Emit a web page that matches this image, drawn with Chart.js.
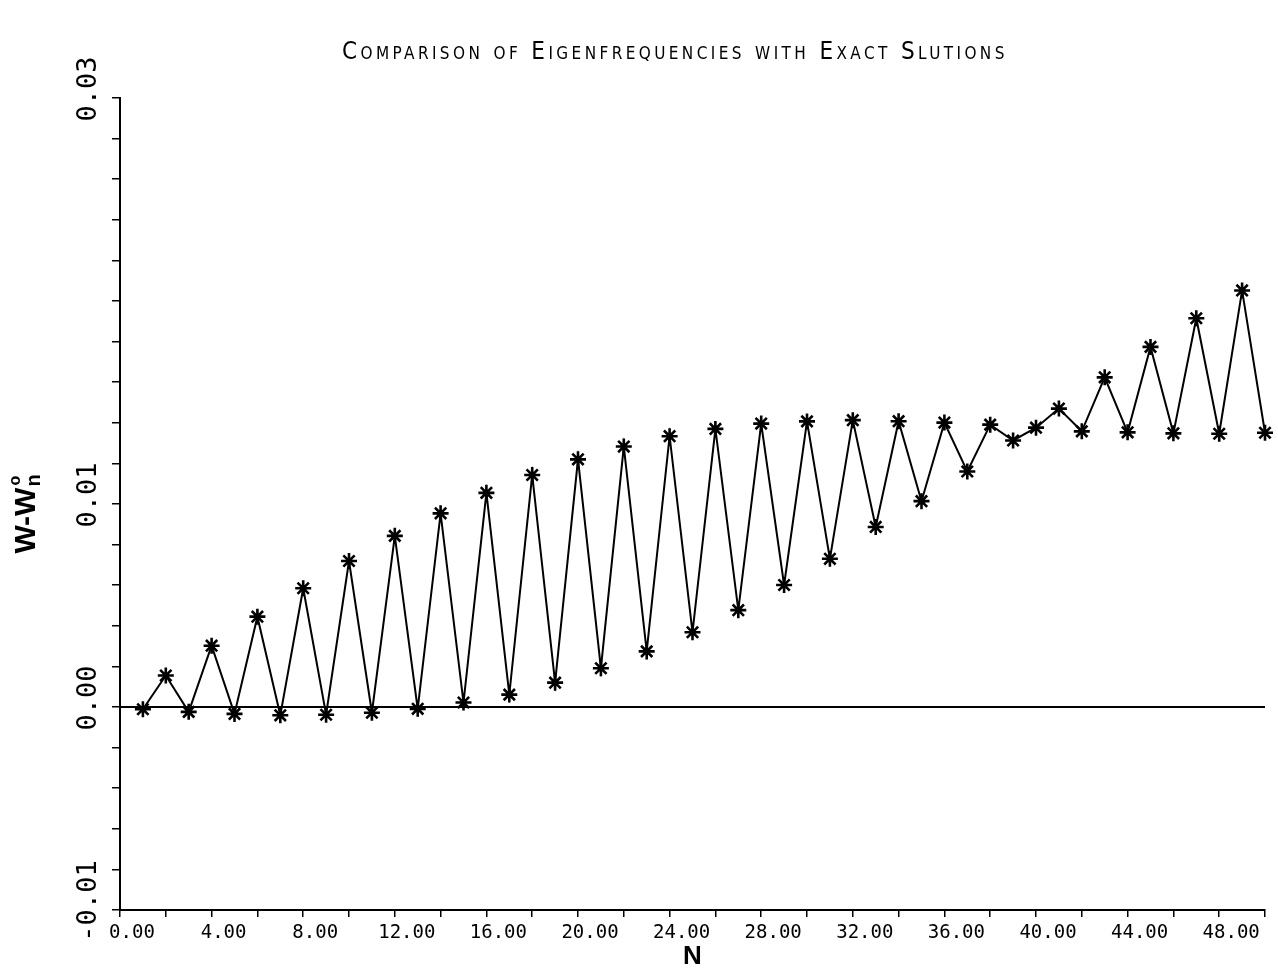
<!DOCTYPE html>
<html>
<head>
<meta charset="utf-8">
<script src="https://cdn.jsdelivr.net/npm/chart.js@4/dist/chart.umd.min.js"></script>
<style>
  html, body { margin: 0; padding: 0; background: #ffffff; }
  #wrap { width: 1278px; height: 972px; position: relative; }
  canvas { display: block; }
</style>
</head>
<body>
<div id="wrap"><canvas id="c" width="1278" height="972"></canvas></div>
<script>
// ---- Text ----
const TITLE = 'Comparison of Eigenfrequencies with Exact Slutions';
const X_TITLE = 'N';
const Y_TITLE_MAIN = 'W-W';
const Y_TITLE_SUB = 'n';
const Y_TITLE_SUP = 'o';

// ---- Data ----
const N_VALUES = [1, 2, 3, 4, 5, 6, 7, 8, 9, 10,
                  11, 12, 13, 14, 15, 16, 17, 18, 19, 20,
                  21, 22, 23, 24, 25, 26, 27, 28, 29, 30,
                  31, 32, 33, 34, 35, 36, 37, 38, 39, 40,
                  41, 42, 43, 44, 45, 46, 47, 48, 49, 50];
const W_DIFF = [-0.00011, 0.00155, -0.00024, 0.00302, -0.00034, 0.00445, -0.00041, 0.00585, -0.00038, 0.00719,
                -0.00028, 0.00843, -0.00009, 0.00954, 0.00022, 0.01055, 0.00061, 0.01143, 0.00120, 0.01220,
                 0.00191, 0.01283, 0.00274, 0.01334, 0.00368, 0.01370, 0.00477, 0.01396, 0.00601, 0.01407,
                 0.00730, 0.01413, 0.00887, 0.01408, 0.01014, 0.01401, 0.01160, 0.01391, 0.01313, 0.01376,
                 0.01470, 0.01358, 0.01624, 0.01353, 0.01774, 0.01348, 0.01915, 0.01346, 0.02052, 0.01351];
const ZERO_X = [0, 50];
const ZERO_Y = [0, 0];

// ---- Ticks ----
const X_MIN = 0, X_MAX = 50, X_STEP = 2;
const X_TICK_LABEL_VALUES = [0, 4, 8, 12, 16, 20, 24, 28, 32, 36, 40, 44, 48];
const Y_MIN = -0.01, Y_MAX = 0.03, Y_STEP = 0.002;
const Y_TICK_LABEL_VALUES = [-0.01, 0.00, 0.01, 0.03];
const Y_TICK_LABELS = ['-0.01', '0.00', '0.01', '0.03'];

const mainPoints = N_VALUES.map((n, i) => ({ x: n, y: W_DIFF[i] }));
const zeroPoints = ZERO_X.map((x, i) => ({ x: x, y: ZERO_Y[i] }));

const decorPlugin = {
  id: 'decor',
  afterDraw(chart) {
    const ctx = chart.ctx;
    const yScale = chart.scales.y;

    // Title in small caps
    ctx.save();
    ctx.fillStyle = '#000';
    ctx.font = "24px 'DejaVu Sans Condensed', 'DejaVu Sans', sans-serif";
    try { ctx.fontVariantCaps = 'small-caps'; } catch (e) {}
    try { ctx.letterSpacing = '0px'; } catch (e) {}
    const w0 = ctx.measureText(TITLE).width;
    const targetW = 666;
    const ls = Math.max(0, (targetW - w0) / TITLE.length);
    try { ctx.letterSpacing = ls.toFixed(2) + 'px'; } catch (e) {}
    ctx.textAlign = 'left';
    ctx.textBaseline = 'alphabetic';
    ctx.fillText(TITLE, 342, 59);
    ctx.restore();

    // Rotated y tick labels
    ctx.save();
    ctx.fillStyle = '#000';
    ctx.font = "27px 'DejaVu Sans Mono', monospace";
    ctx.textAlign = 'center';
    ctx.textBaseline = 'alphabetic';
    Y_TICK_LABEL_VALUES.forEach((v, i) => {
      const py = yScale.getPixelForValue(v) - 9;
      ctx.save();
      ctx.translate(96, py);
      ctx.rotate(-Math.PI / 2);
      ctx.fillText(Y_TICK_LABELS[i], 0, 0);
      ctx.restore();
    });
    ctx.restore();

    // Rotated y axis title W-Wn^o
    ctx.save();
    ctx.fillStyle = '#000';
    ctx.translate(24, 514);
    ctx.rotate(-Math.PI / 2);
    ctx.textAlign = 'left';
    ctx.textBaseline = 'alphabetic';
    const mainFont = "bold 30px 'Liberation Sans', Arial, sans-serif";
    const subFont = "bold 20px 'Liberation Sans', Arial, sans-serif";
    const supFont = "bold 16px 'Liberation Sans', Arial, sans-serif";
    ctx.font = mainFont;
    const wMain = ctx.measureText(Y_TITLE_MAIN).width;
    ctx.font = subFont;
    const wSub = ctx.measureText(Y_TITLE_SUB).width;
    const total = wMain + wSub + 1;
    const x0 = -total / 2;
    ctx.font = mainFont;
    ctx.fillText(Y_TITLE_MAIN, x0, 11);
    ctx.font = subFont;
    ctx.fillText(Y_TITLE_SUB, x0 + wMain + 1, 16);
    ctx.font = supFont;
    ctx.fillText(Y_TITLE_SUP, x0 + wMain + 2, -4);
    ctx.restore();
  }
};

new Chart(document.getElementById('c'), {
  type: 'line',
  data: {
    datasets: [
      {
        label: 'zero',
        data: zeroPoints,
        borderColor: '#000',
        borderWidth: 2,
        pointRadius: 0,
        fill: false,
        tension: 0,
        clip: false,
        order: 2
      },
      {
        label: 'W - Wn',
        data: mainPoints,
        borderColor: '#000',
        backgroundColor: '#000',
        borderWidth: 2,
        pointStyle: 'star',
        pointRadius: 8,
        pointBorderWidth: 2.6,
        pointBorderColor: '#000',
        pointBackgroundColor: '#000',
        fill: false,
        tension: 0,
        clip: false,
        order: 1
      }
    ]
  },
  options: {
    responsive: false,
    animation: false,
    events: [],
    layout: { padding: { top: 98, right: 13, bottom: 0, left: 0 } },
    plugins: {
      legend: { display: false },
      title: { display: false },
      tooltip: { enabled: false }
    },
    scales: {
      x: {
        type: 'linear',
        min: X_MIN,
        max: X_MAX,
        afterFit(scale) { scale.height = 62; },
        border: { display: true, color: '#000', width: 2 },
        grid: { drawOnChartArea: false, drawTicks: true, tickLength: 7, color: '#000', lineWidth: 1.5 },
        ticks: {
          stepSize: X_STEP,
          autoSkip: false,
          maxRotation: 0,
          minRotation: 0,
          padding: 5,
          labelOffset: 12,
          color: '#000',
          font: { family: "'DejaVu Sans Mono', monospace", size: 19 },
          callback(value) {
            return X_TICK_LABEL_VALUES.includes(value) ? value.toFixed(2) : '';
          }
        },
        title: {
          display: true,
          text: X_TITLE,
          color: '#000',
          font: { family: "'Liberation Sans', Arial, sans-serif", size: 26, weight: 'bold' },
          padding: { top: 0, bottom: 0 }
        }
      },
      y: {
        type: 'linear',
        min: Y_MIN,
        max: Y_MAX,
        afterFit(scale) { scale.width = 120; },
        border: { display: true, color: '#000', width: 2 },
        grid: { drawOnChartArea: false, drawTicks: true, tickLength: 8, color: '#000', lineWidth: 1.5 },
        ticks: {
          stepSize: Y_STEP,
          autoSkip: false,
          display: false
        }
      }
    }
  },
  plugins: [decorPlugin]
});
</script>
</body>
</html>
